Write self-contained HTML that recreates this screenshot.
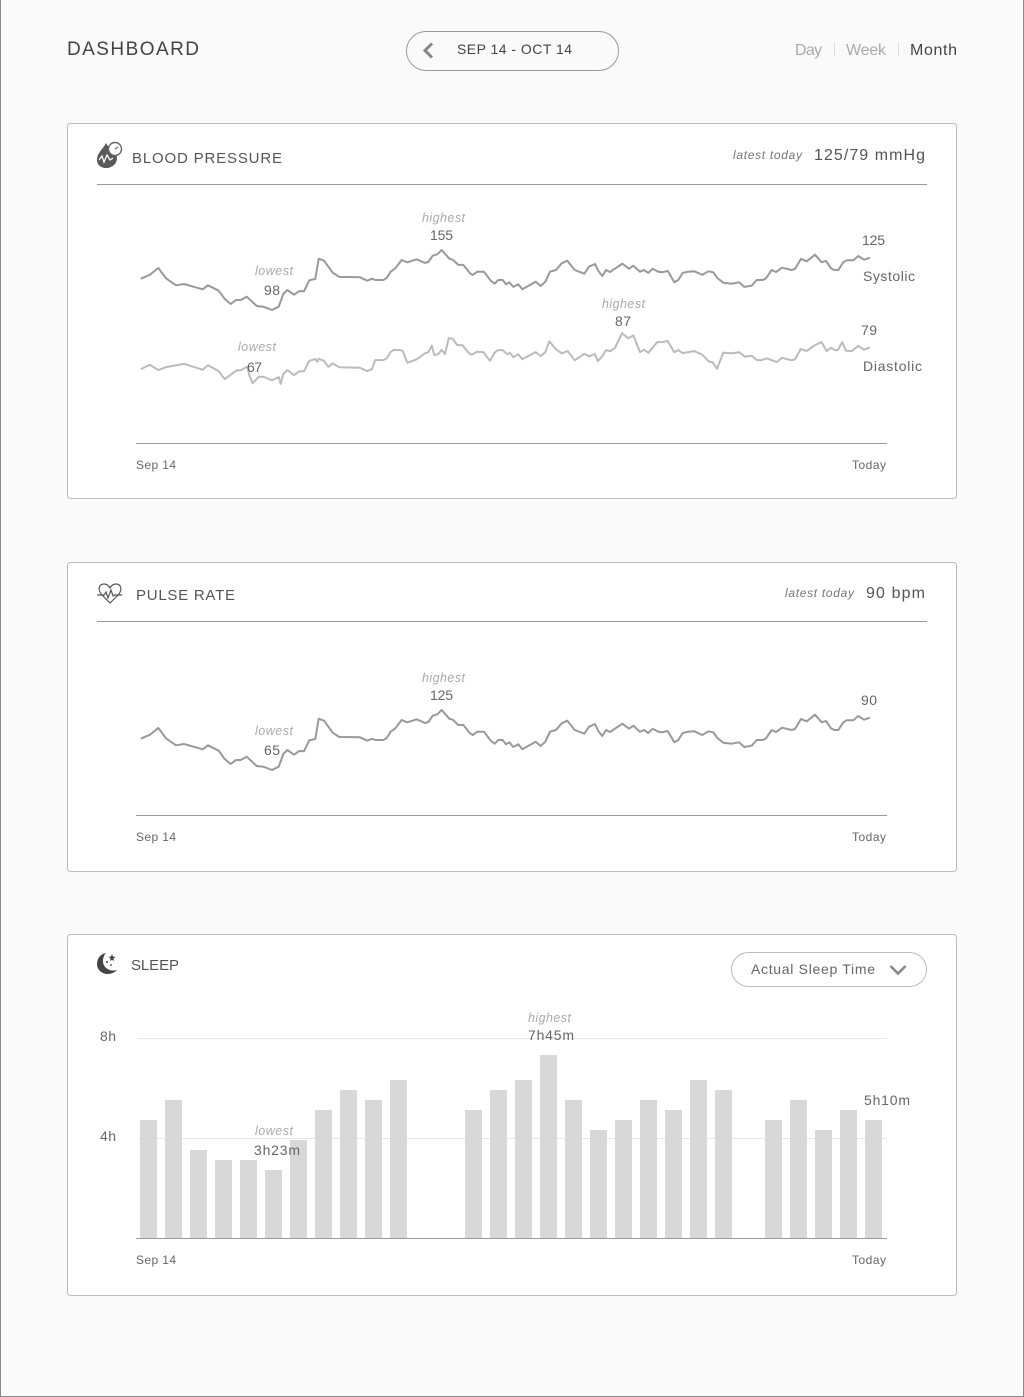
<!DOCTYPE html>
<html lang="en">
<head>
<meta charset="utf-8">
<title>Dashboard</title>
<style>
html,body{margin:0;padding:0;background:#fafafa;width:1024px;height:1397px;overflow:hidden}
svg{display:block}
text{font-family:"Liberation Sans",sans-serif;font-weight:400}
.it{font-style:italic;fill:#aaa;font-size:12.5px}
.val{fill:#666;font-size:14px}
.tick{fill:#666;font-size:12px}
.title{fill:#555;font-size:15px}
.late{font-style:italic;fill:#777;font-size:12px}
.big{fill:#555;font-size:16px}
</style>
</head>
<body>
<svg id="page" xmlns="http://www.w3.org/2000/svg" width="1024" height="1397" viewBox="0 0 1024 1397">
<rect x="0.5" y="-2" width="1023" height="1398.5" fill="#fafafa" stroke="#8a8a8a"/>

<text x="67" y="55" font-size="19" fill="#444" textLength="132" lengthAdjust="spacing">DASHBOARD</text>

<g>
<rect x="406.5" y="31.5" width="212" height="39" rx="19.5" fill="none" stroke="#999"/>
<path d="M432 43.5L425 50.5L432 57.5" fill="none" stroke="#888" stroke-width="3"/>
<text x="457" y="54" font-size="14" fill="#444" textLength="115" lengthAdjust="spacing">SEP 14 - OCT 14</text>
</g>

<text x="795" y="55" font-size="16" fill="#aaa" textLength="27" lengthAdjust="spacing">Day</text>
<line x1="834.5" y1="42" x2="834.5" y2="57" stroke="#ddd"/>
<text x="846" y="55" font-size="16" fill="#aaa" textLength="40" lengthAdjust="spacing">Week</text>
<line x1="898.5" y1="42" x2="898.5" y2="57" stroke="#ddd"/>
<text x="910" y="55" font-size="16" fill="#444" textLength="47" lengthAdjust="spacing">Month</text>

<!-- Blood pressure card -->
<g>
<rect x="67.5" y="123.5" width="889" height="375" rx="3" fill="#fff" stroke="#bbb"/>
<g>
<path d="M106 143C103 149 97 153 97 160C97 165 101 168 106 168C112 168 117 164 117 158C117 153 109 149 106 143Z" fill="#5a5a5a"/>
<path d="M99 160L102 156L104 162L107 155L110 160L113 158" fill="none" stroke="#fff" stroke-width="1.3"/>
<circle cx="115" cy="149" r="6.5" fill="#fff" stroke="#666" stroke-width="1.4"/>
<line x1="115" y1="149" x2="118" y2="147" stroke="#666" stroke-width="1.2"/>
</g>
<text class="title" x="132" y="163" textLength="150" lengthAdjust="spacing">BLOOD PRESSURE</text>
<text class="late" x="733" y="159" textLength="69" lengthAdjust="spacing">latest today</text>
<text class="big" x="814" y="160" textLength="111" lengthAdjust="spacing">125/79 mmHg</text>
<line x1="97" y1="184.5" x2="927" y2="184.5" stroke="#999"/>
<line x1="136" y1="443.5" x2="887" y2="443.5" stroke="#999"/>
<text class="tick" x="136" y="469" textLength="40" lengthAdjust="spacing">Sep 14</text>
<text class="tick" x="852" y="469" textLength="34" lengthAdjust="spacing">Today</text>
</g>
<g id="bp-lines"></g>
<text class="it" x="422" y="222" textLength="43" lengthAdjust="spacing">highest</text>
<text class="val" x="430" y="240" textLength="23" lengthAdjust="spacing">155</text>
<text class="it" x="255" y="275" textLength="38" lengthAdjust="spacing">lowest</text>
<text class="val" x="264" y="295" textLength="16" lengthAdjust="spacing">98</text>
<text class="it" x="238" y="351" textLength="38" lengthAdjust="spacing">lowest</text>
<text class="val" x="247" y="372" textLength="15" lengthAdjust="spacing">67</text>
<text class="it" x="602" y="308" textLength="43" lengthAdjust="spacing">highest</text>
<text class="val" x="615" y="326" textLength="16" lengthAdjust="spacing">87</text>
<text class="val" x="862" y="245" textLength="23" lengthAdjust="spacing">125</text>
<text class="val" x="863" y="281" textLength="52" lengthAdjust="spacing">Systolic</text>
<text class="val" x="861" y="335" textLength="16" lengthAdjust="spacing">79</text>
<text class="val" x="863" y="371" textLength="59" lengthAdjust="spacing">Diastolic</text>

<!-- Pulse card -->
<g>
<rect x="67.5" y="562.5" width="889" height="309" rx="3" fill="#fff" stroke="#bbb"/>
<g fill="none" stroke="#555" stroke-width="1.2">
<path d="M101 594C97 588 100 584 104 584C107 584 109 586 110 588C111 586 113 584 116 584C120 584 123 588 119 594L110 603Z"/>
<path d="M97 595H104L106 592L108 598L111 590L113 596L115 595H122"/>
</g>
<text class="title" x="136" y="600" textLength="99" lengthAdjust="spacing">PULSE RATE</text>
<text class="late" x="785" y="597" textLength="69" lengthAdjust="spacing">latest today</text>
<text class="big" x="866" y="598" textLength="59" lengthAdjust="spacing">90 bpm</text>
<line x1="97" y1="621.5" x2="927" y2="621.5" stroke="#999"/>
<line x1="136" y1="815.5" x2="887" y2="815.5" stroke="#999"/>
<text class="tick" x="136" y="841" textLength="40" lengthAdjust="spacing">Sep 14</text>
<text class="tick" x="852" y="841" textLength="34" lengthAdjust="spacing">Today</text>
</g>
<g id="pulse-lines"></g>
<text class="it" x="422" y="682" textLength="43" lengthAdjust="spacing">highest</text>
<text class="val" x="430" y="700" textLength="23" lengthAdjust="spacing">125</text>
<text class="it" x="255" y="735" textLength="38" lengthAdjust="spacing">lowest</text>
<text class="val" x="264" y="755" textLength="16" lengthAdjust="spacing">65</text>
<text class="val" x="861" y="705" textLength="16" lengthAdjust="spacing">90</text>

<!-- Sleep card -->
<g>
<rect x="67.5" y="934.5" width="889" height="361" rx="3" fill="#fff" stroke="#bbb"/>
<g>
<path d="M106 953C100 954 97 959 97 964C97 970 102 974 108 974C112 974 115 972 117 970C110 972 103 968 103 961C103 958 104 955 106 953Z" fill="#444"/>
<path d="M112 954L113 956.5L115.5 957L113.5 958.5L114 961L112 959.7L110 961L110.5 958.5L108.5 957L111 956.5Z" fill="#444"/>
<circle cx="107" cy="962" r="1" fill="#444"/>
<circle cx="111" cy="965" r="1" fill="#666"/>
</g>
<text class="title" x="131" y="970" textLength="48" lengthAdjust="spacing">SLEEP</text>
<g>
<rect x="731.5" y="952.5" width="195" height="34" rx="17" fill="#fff" stroke="#bbb"/>
<text x="751" y="974" font-size="14" fill="#666" textLength="124" lengthAdjust="spacing">Actual Sleep Time</text>
<path d="M890.5 966L898 973.5L905.5 966" fill="none" stroke="#888" stroke-width="2.6"/>
</g>
<text class="val" x="100" y="1041" textLength="16" lengthAdjust="spacing">8h</text>
<text class="val" x="100" y="1141" textLength="16" lengthAdjust="spacing">4h</text>
<line x1="138" y1="1038.5" x2="887" y2="1038.5" stroke="#e6e6e6"/>
<line x1="138" y1="1138.5" x2="887" y2="1138.5" stroke="#e6e6e6"/>
</g>
<g id="sleep-bars"></g>
<line x1="136" y1="1238.5" x2="887" y2="1238.5" stroke="#999"/>
<text class="tick" x="136" y="1264" textLength="40" lengthAdjust="spacing">Sep 14</text>
<text class="tick" x="852" y="1264" textLength="34" lengthAdjust="spacing">Today</text>
<text class="it" x="528" y="1022" textLength="43" lengthAdjust="spacing">highest</text>
<text class="val" x="528" y="1040" textLength="46" lengthAdjust="spacing">7h45m</text>
<text class="it" x="255" y="1135" textLength="38" lengthAdjust="spacing">lowest</text>
<text class="val" x="254" y="1155" textLength="46" lengthAdjust="spacing">3h23m</text>
<text class="val" x="864" y="1105" textLength="46" lengthAdjust="spacing">5h10m</text>
</svg>

<script>
const sampleHours = [
0.7,10,18.3,26,36,44,62.7,68,78.7,84.7,
90.7,96,100.7,106.7,116.7,123.3,132,138.7,143.3,147.3,
154,159.3,164,169.3,175.3,178.7,184,192.7,199.3,220,
227.3,232,235.3,243.3,246.7,250.7,255.3,261.7,267.3,276.7,
285,288.3,292.7,297.3,301.7,309.3,312.7,318.3,323.3,330,
332.7,337.3,344,350.7,354.7,358.3,362.7,366,369.3,373.3,
378.3,382.3,395.7,400.7,405.3,410,416,421.7,427.3,434.7,
444.3,449,455,458.3,462.3,466,470,482.3,489,493.3,
500,504,508.3,512.7,518.3,522.3,527.7,534.3,538.3,542.7,
548.3,554.3,562.3,568.3,573.3,577.3,583.3,591.7,599,604.3,
611.7,616.7,622.7,626,631.7,636,642,651.7,655,661,
666.7,675,681.7,686,691,694.3,698.3,703.3,706.7,713.3,
718.3,724,730];

const systolicValues = [
127.7,131.5,137.9,128.1,121.5,122.7,117.7,121.5,116.3,108.5,
103.7,107.5,107.5,110.6,101.8,101.1,98,101.1,113.2,117,
112.5,116,115.8,126.2,127.5,146.7,144.8,133.4,129.4,129.1,
125.8,127.7,126.5,126.5,128.4,134.4,137.6,145.5,143.3,146.2,
142.7,143.6,149.6,150.9,155,146.7,145.8,140.8,140.8,132.9,
131.3,134.4,134.4,125.8,123,126.5,126.5,122.4,124.3,119.9,
122.4,117.7,124.9,120.8,124.9,134.4,136,142.4,144.8,136,
132.5,139.1,141.7,135.1,130.3,136,134.1,142,137.2,140.1,
134.4,136,133.2,137.2,134.4,133.8,135.1,124.3,126.5,133.2,
134.4,134.8,131.3,134.8,133.8,128.4,123.9,123,124.3,119.9,
121.1,126.5,126.5,128.1,136,134.1,138.2,136,137,146.5,
144.3,150.5,143.3,144.6,137.6,136,136,143.3,145.2,145.2,
149.3,145.8,147.7];

const pulseValues = [
96.3,100.3,107,96.7,89.7,91,85.7,89.7,84.3,76,
71,75,75,78.3,69,68.3,65,68.3,81,85,
80.3,84,83.7,94.7,96,116.3,114.3,102.3,98,97.7,
94.3,96.3,95,95,97,103.3,106.7,115,112.7,115.7,
112,113,119.3,120.7,125,116.3,115.3,110,110,101.7,
100,103.3,103.3,94.3,91.3,95,95,90.7,92.7,88,
90.7,85.7,93.3,89,93.3,103.3,105,111.7,114.3,105,
101.3,108.3,111,104,99,105,103,111.3,106.3,109.3,
103.3,105,102,106.3,103.3,102.7,104,92.7,95,102,
103.3,103.7,100,103.7,102.7,97,92.3,91.3,92.7,88,
89.3,95,95,96.7,105,103,107.3,105,106,116,
113.7,120.3,112.7,114,106.7,105,105,112.7,114.7,114.7,
119,115.3,117.3];

const diastolicHours = [
0.7,10,18.3,26,44,62.7,68,78.7,84.7,96.7,
100.7,107.3,109.3,112.7,118.7,123.3,132,138.7,140.7,143.3,
147.3,154,159.3,164,169.3,175.3,177.3,178.7,184,188.3,
192.7,199.3,220,227.3,232,235.3,243.3,246.7,250.7,254,
260,262.7,267.3,276.7,285,288.3,291.7,294.3,298.3,301.7,
305,308.7,312.7,317.3,322.3,329,331.7,336.7,343.3,350,
355,358.3,362.7,367.3,370,373.3,378.3,382.3,395.7,400.7,
405.3,409.3,416,421.7,427.7,434.7,444.3,449,455,457.7,
462.3,466,470,475,482,488.3,493.3,500,504,508.3,
517.3,523.3,527.5,534.3,538.3,542.7,554,561.7,569.3,572.7,
577,583.3,591.7,599.3,605,611.7,616.7,621.7,626.7,636.7,
642,651.7,655,660.7,666.7,675,681.7,686.7,691,695,
697.7,702.3,706,711.7,718.3,724,730];

const diastolicValues = [
72.7,74.4,72.3,73.5,74.8,72.4,74.2,71.9,68.7,72.2,
72.2,73.6,70.3,67,69.6,69.6,68.2,69.5,66.8,70.7,
72.3,70.3,71.8,71.8,76,76.7,75.6,76.8,76,73.6,
75,73.4,73.2,71.9,72.7,76.3,76.3,77,79.6,80.4,
80.3,80,75.2,76.6,79,79.4,82,78.3,78.7,80.4,
78.7,85,84.8,82.3,82.3,79,78.4,79.6,79.5,76,
79.4,80.3,80.3,78.6,79.2,77.5,78.6,76.6,79.5,77.9,
79.5,83.8,80.6,79,79.9,76.2,78.8,77.8,78.7,75.9,
77.8,80.3,79.8,81.2,87,85,86.2,79.5,80.4,79.2,
83.5,83.5,84,79.4,80.3,79.1,79.9,78.6,75.6,75.4,
72.8,79.2,79,79.4,77.6,78,76.3,76.3,77,75.5,
77.2,76.2,76.6,80.7,79.9,82.3,83.5,79.9,81.2,80.3,
80.3,83.4,80,79.9,82,80.4,81.4];

const sleepHours = [
4.72,5.52,3.52,3.12,3.12,2.72,3.92,5.12,5.92,5.52,6.32,
null,null,
5.12,5.92,6.32,7.32,5.52,4.32,4.72,5.52,5.12,6.32,5.92,
null,
4.72,5.52,4.32,5.12,4.72];

const NS = 'http://www.w3.org/2000/svg';

function xHour(h) { return 140 + h; }
function ySystolic(v) { return 310 - (v - 98) * (60 / 57); }
function yDiastolic(v) { return 383.3 - (v - 67) * 2.5; }
function yPulse(v) { return 770 - (v - 65); }
function xDay(i) { return 140 + i * 25; }
function ySleep(h) { return 1238 - h * 25; }

function linePath(hours, values, yFn) {
  return values.map(function (v, i) {
    return (i ? 'L' : 'M') + xHour(hours[i]).toFixed(1) + ' ' + yFn(v).toFixed(1);
  }).join('');
}

const systolicLine = document.createElementNS(NS, 'path');


systolicLine.setAttribute('d', linePath(sampleHours, systolicValues, ySystolic));
systolicLine.setAttribute('fill', 'none');
systolicLine.setAttribute('stroke', '#999');
systolicLine.setAttribute('stroke-width', '2');
systolicLine.setAttribute('stroke-linejoin', 'round');
document.getElementById('bp-lines').appendChild(systolicLine);

const diastolicLine = document.createElementNS(NS, 'path');


diastolicLine.setAttribute('d', linePath(diastolicHours, diastolicValues, yDiastolic));
diastolicLine.setAttribute('fill', 'none');
diastolicLine.setAttribute('stroke', '#bbb');
diastolicLine.setAttribute('stroke-width', '2');
diastolicLine.setAttribute('stroke-linejoin', 'round');
document.getElementById('bp-lines').appendChild(diastolicLine);

const pulseLine = document.createElementNS(NS, 'path');


pulseLine.setAttribute('d', linePath(sampleHours, pulseValues, yPulse));
pulseLine.setAttribute('fill', 'none');
pulseLine.setAttribute('stroke', '#999');
pulseLine.setAttribute('stroke-width', '2');
pulseLine.setAttribute('stroke-linejoin', 'round');
document.getElementById('pulse-lines').appendChild(pulseLine);

sleepHours.forEach(function (h, i) {
  if (h === null) return;
  const bar = document.createElementNS(NS, 'rect');
  
  
  bar.setAttribute('x', xDay(i));
  bar.setAttribute('y', ySleep(h));
  bar.setAttribute('width', 17);
  bar.setAttribute('height', 1238 - ySleep(h));
  bar.setAttribute('fill', '#d8d8d8');
  document.getElementById('sleep-bars').appendChild(bar);
});
</script>
</body>
</html>
